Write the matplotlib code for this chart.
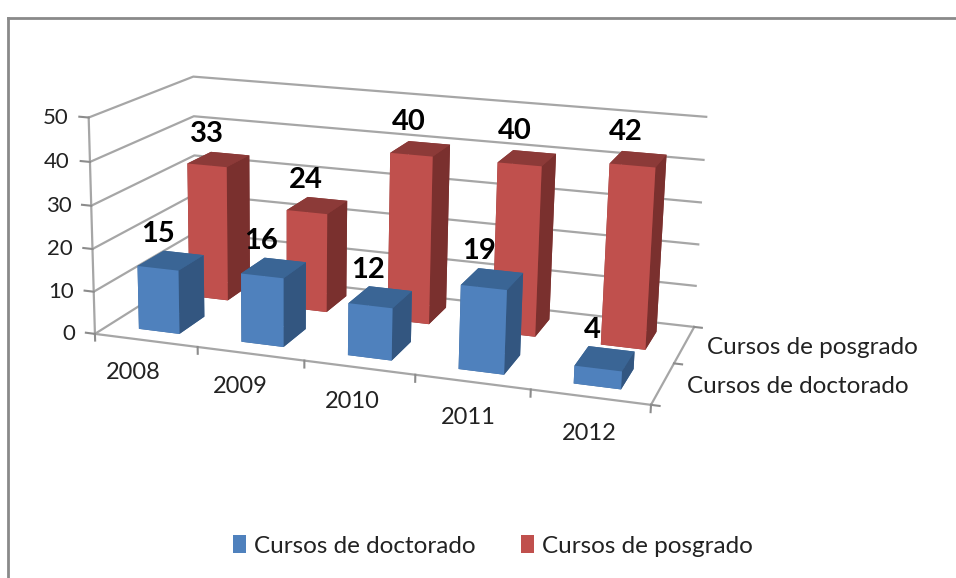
import numpy as np
import matplotlib
matplotlib.use("Agg")
import matplotlib.pyplot as plt
from matplotlib.patches import Patch
from matplotlib.lines import Line2D
from mpl_toolkits.mplot3d import proj3d

years = ["2008", "2009", "2010", "2011", "2012"]
series_names = ["Cursos de doctorado", "Cursos de posgrado"]
doctorado = [15, 16, 12, 19, 4]
posgrado = [33, 24, 40, 40, 42]
z_ticks = [0, 10, 20, 30, 40, 50]

plt.rcParams['font.family'] = ['Lato', 'DejaVu Sans']
W, H = 956, 578
fig = plt.figure(figsize=(W/100, H/100), dpi=100)
ax = fig.add_axes([-2/W, 0.158, 792/W, 0.88], projection='3d', computed_zorder=False)
ax.set_proj_type('persp', focal_length=0.65)
ax.view_init(elev=15, azim=-72, roll=-1)
ax.set_box_aspect((570, 245, 224), zoom=1.24)
ax.patch.set_alpha(0)

bw, bd = 0.40, 0.5
face = {
    0: ["#3F6797", "#3A6595", "#4F81BD", "#3A6595", "#3A6595", "#335680"],
    1: ["#8A3A38", "#8C3A38", "#C0504D", "#8C3A38", "#8C3A38", "#7A302E"],
}
n = len(years)
rows = [(1, posgrado), (0, doctorado)]
for row, vals in rows:
    for i in range(n):
        x0 = i + 0.5 - bw/2
        y0 = row + 0.5 - bd/2
        p = ax.bar3d(x0, y0, 0, bw, bd, vals[i], color=face[row], shade=False, zsort='average')
        p.set_clip_on(False)

ax.set_xticks([])
ax.set_yticks([])
ax.set_zticks(z_ticks); ax.set_zticklabels(z_ticks, fontsize=16, color='#222222')
ax.zaxis.set_ticks_position('lower')
ax.tick_params(axis='z', pad=-2)
for t in ax.zaxis.get_ticklabels():
    t.set_va('center'); t.set_ha('right')
for a in (ax.xaxis, ax.yaxis, ax.zaxis):
    a.set_pane_color((1, 1, 1, 0))
    a.pane.set_edgecolor('#A6A6A6')
    a.line.set_color('#A6A6A6')
    a.line.set_linewidth(1.6)
    a._axinfo['grid'].update(color='#A6A6A6', linewidth=1.6)
    a._axinfo['tick'].update(linewidth={True: 0.0, False: 0.0})

# Outward tick marks in the reference's directions
tc = dict(color='#8C8C8C', lw=1.5, clip_on=False, zorder=1)
for z in z_ticks:
    ax.plot([0, -0.09], [0, 0], [z, z], **tc)
for i in range(n + 1):
    ax.plot([i, i], [0, 0], [0, -1.6], **tc)
for j in range(3):
    ax.plot([n, n + 0.07], [j, j], [0, 0], **tc)
ax.set_xlim(0, n); ax.set_ylim(0, 2); ax.set_zlim(0, 50)


def label3d(x, y, z, s, **kw):
    """Place a plain text at the projected position of a 3D point."""
    u, v, _ = proj3d.proj_transform(x, y, z, ax.get_proj())
    return ax.text2D(u, v, s, transform=ax.transData, va='center', zorder=20, **kw)


for row, vals in rows:
    for i in range(n):
        label3d(i + 0.38, row + 0.5, vals[i] + 6, str(vals[i]), ha='center',
                fontsize=21, fontweight='bold', color='black')
for i, y in enumerate(years):
    label3d(i + 0.60, -0.42, -3.5, y, ha='center', fontsize=17, color='#222222')
label3d(n + 0.20, 1.5, 0, series_names[1], ha='left', fontsize=17.5, color='#222222')
label3d(n + 0.20, 0.5, 0, series_names[0], ha='left', fontsize=17.5, color='#222222')

fig.add_artist(Line2D([8/W, 8/W], [0, 1-18/H], color='#8A8A8A', lw=2))
fig.add_artist(Line2D([8/W, 1], [1-18/H, 1-18/H], color='#8A8A8A', lw=2))

handles = [Patch(facecolor='#4F81BD'), Patch(facecolor='#C0504D')]
fig.legend(handles, series_names, loc='center', bbox_to_anchor=(493/W, 1-546/H), ncol=2, frameon=False,
           fontsize=17.5, handlelength=0.53, handleheight=0.7, handletextpad=0.33, columnspacing=1.9, labelcolor='#222222')
fig.savefig("out.png", dpi=100)
